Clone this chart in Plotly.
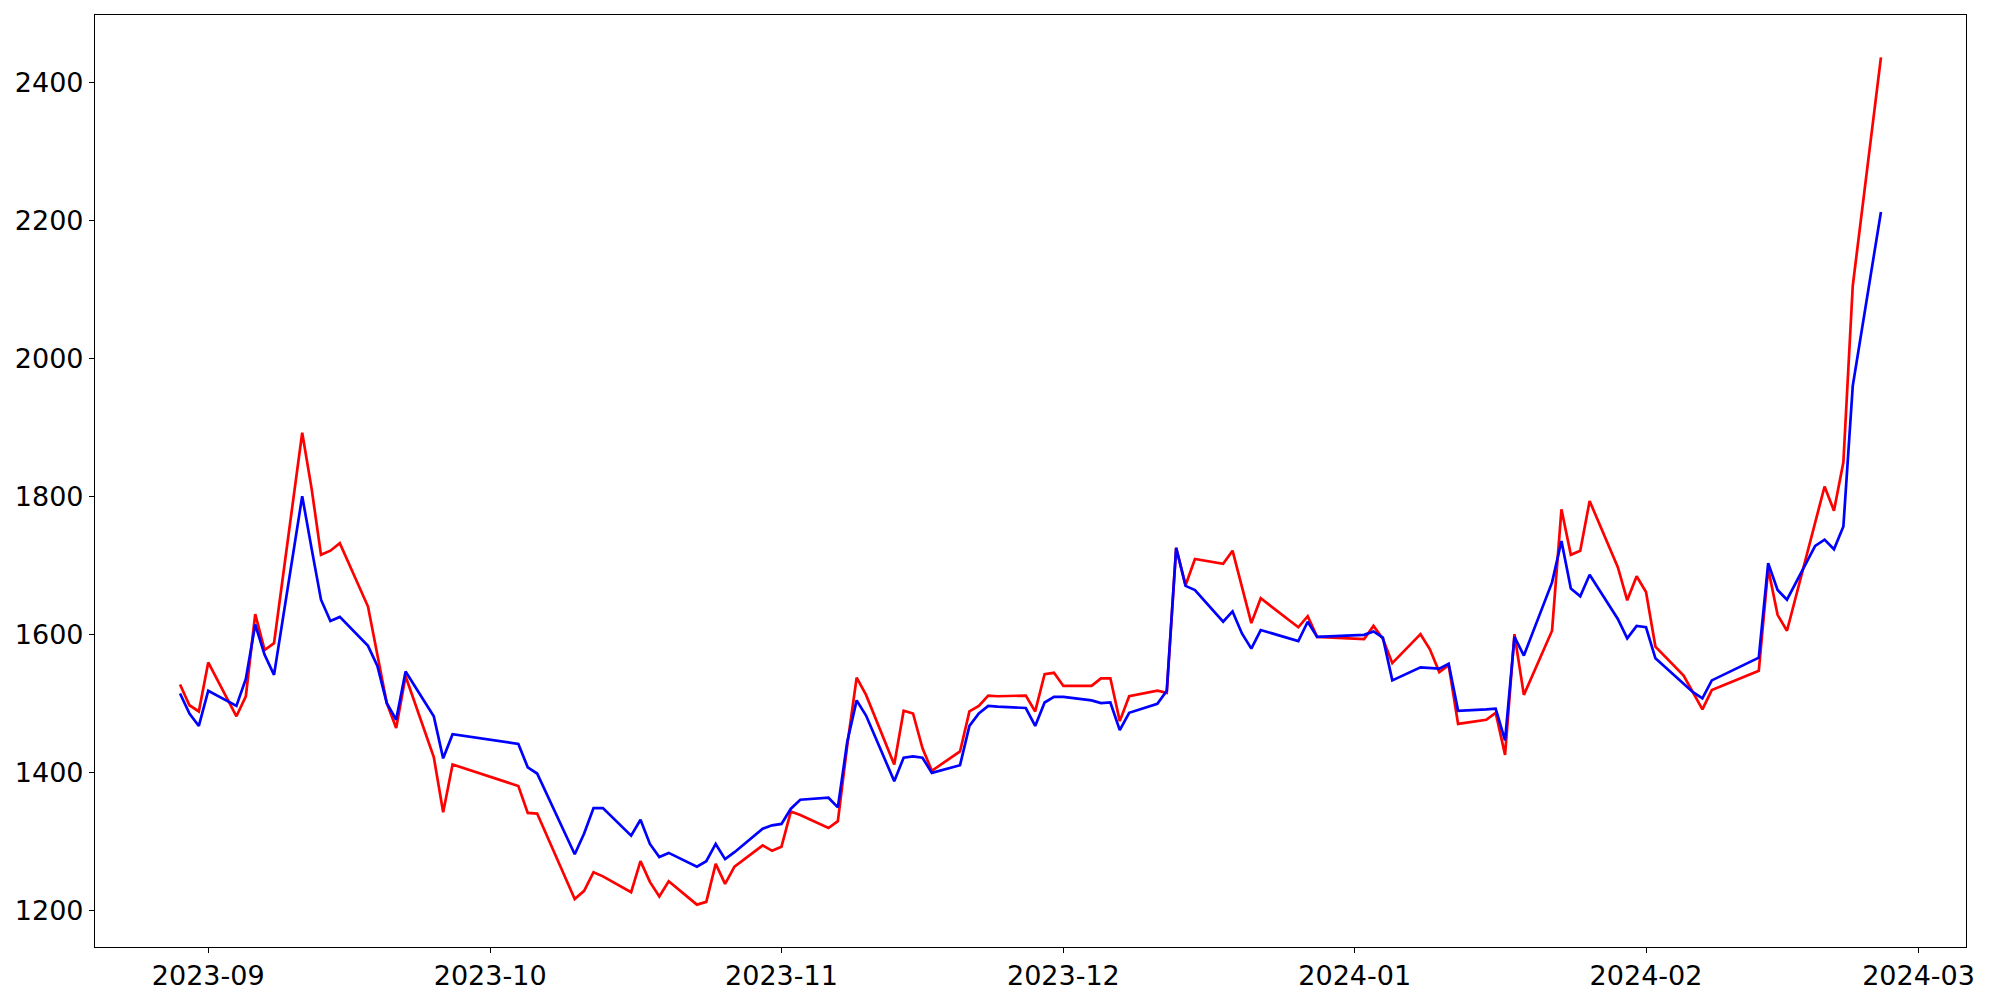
import plotly.graph_objects as go
import pandas as pd

dates = [
    "2023-08-29", "2023-08-30", "2023-08-31", "2023-09-01",
    "2023-09-04", "2023-09-05", "2023-09-06", "2023-09-07", "2023-09-08",
    "2023-09-11", "2023-09-12", "2023-09-13", "2023-09-14", "2023-09-15",
    "2023-09-18", "2023-09-19", "2023-09-20", "2023-09-21", "2023-09-22",
    "2023-09-25", "2023-09-26", "2023-09-27",
    "2023-10-04", "2023-10-05", "2023-10-06",
    "2023-10-10", "2023-10-11", "2023-10-12", "2023-10-13",
    "2023-10-16", "2023-10-17", "2023-10-18", "2023-10-19", "2023-10-20",
    "2023-10-23", "2023-10-24", "2023-10-25", "2023-10-26", "2023-10-27",
    "2023-10-30", "2023-10-31",
    "2023-11-01", "2023-11-02", "2023-11-03",
    "2023-11-06", "2023-11-07", "2023-11-08", "2023-11-09", "2023-11-10",
    "2023-11-13", "2023-11-14", "2023-11-15", "2023-11-16", "2023-11-17",
    "2023-11-20", "2023-11-21", "2023-11-22", "2023-11-23", "2023-11-24",
    "2023-11-27", "2023-11-28", "2023-11-29", "2023-11-30",
    "2023-12-01",
    "2023-12-04", "2023-12-05", "2023-12-06", "2023-12-07", "2023-12-08",
    "2023-12-11", "2023-12-12", "2023-12-13", "2023-12-14", "2023-12-15",
    "2023-12-18", "2023-12-19", "2023-12-20", "2023-12-21", "2023-12-22",
    "2023-12-26", "2023-12-27", "2023-12-28",
    "2024-01-02", "2024-01-03", "2024-01-04", "2024-01-05",
    "2024-01-08", "2024-01-09", "2024-01-10", "2024-01-11", "2024-01-12",
    "2024-01-15", "2024-01-16", "2024-01-17", "2024-01-18", "2024-01-19",
    "2024-01-22", "2024-01-23", "2024-01-24", "2024-01-25", "2024-01-26",
    "2024-01-29", "2024-01-30", "2024-01-31",
    "2024-02-01", "2024-02-02",
    "2024-02-05", "2024-02-06", "2024-02-07", "2024-02-08",
    "2024-02-13", "2024-02-14", "2024-02-15", "2024-02-16",
    "2024-02-19", "2024-02-20", "2024-02-21", "2024-02-22", "2024-02-23",
    "2024-02-26",
]

red_values = [
    # Aug 29 - Sep 27
    1527, 1497, 1488, 1559, 1481, 1510, 1629, 1577, 1587, 1892, 1811,
    1715, 1721, 1732, 1640, 1572, 1500, 1464, 1539, 1422, 1342, 1411,
    # Oct
    1380, 1341, 1340, 1216, 1228, 1255, 1249, 1226, 1271, 1241, 1220,
    1242, 1208, 1212, 1267, 1238, 1263, 1294, 1286,
    # Nov
    1292, 1343, 1338, 1319, 1329, 1439, 1537, 1512, 1411, 1489, 1485,
    1435, 1402, 1430, 1488, 1496, 1511, 1510, 1511, 1488, 1542, 1544,
    # Dec
    1525, 1525, 1536, 1536, 1474, 1510, 1518, 1515, 1725, 1671, 1709,
    1702, 1721, 1668, 1616, 1652, 1610, 1626, 1596,
    # Jan
    1593, 1612, 1593, 1558, 1600, 1578, 1545, 1555, 1470, 1476, 1486,
    1425, 1600, 1512, 1605, 1781, 1715, 1721, 1793, 1697, 1649, 1684,
    # Feb
    1661, 1582, 1540, 1516, 1491, 1519, 1547, 1695, 1628, 1605, 1761,
    1814, 1779, 1849, 2105, 2436,
]

blue_values = [
    # Aug 29 - Sep 27
    1514, 1485, 1467, 1518, 1496, 1535, 1614, 1570, 1541, 1800, 1724,
    1650, 1619, 1625, 1583, 1554, 1500, 1476, 1546, 1481, 1420, 1455,
    # Oct
    1441, 1407, 1398, 1281, 1311, 1348, 1348, 1308, 1331, 1296, 1277,
    1283, 1263, 1271, 1296, 1274, 1284, 1318, 1323,
    # Nov
    1325, 1347, 1360, 1363, 1349, 1444, 1504, 1482, 1387, 1421, 1423,
    1421, 1399, 1410, 1467, 1485, 1496, 1495, 1493, 1467, 1501, 1509,
    # Dec
    1509, 1504, 1500, 1501, 1461, 1486, 1499, 1518, 1725, 1670, 1664,
    1618, 1633, 1601, 1579, 1606, 1590, 1618, 1596,
    # Jan
    1599, 1604, 1595, 1533, 1552, 1551, 1550, 1557, 1489, 1491, 1492,
    1446, 1596, 1569, 1675, 1735, 1666, 1655, 1686, 1622, 1594, 1612,
    # Feb
    1610, 1565, 1528, 1516, 1507, 1533, 1566, 1703, 1664, 1650, 1728,
    1737, 1723, 1756, 1960, 2212,
]

y_ticks = [1200, 1400, 1600, 1800, 2000, 2200, 2400]

assert len(dates) == len(red_values) == len(blue_values)

x = pd.to_datetime(dates)
span = x.max() - x.min()
x_range = [x.min() - 0.05 * span, x.max() + 0.05 * span]
all_vals = red_values + blue_values
vspan = max(all_vals) - min(all_vals)
y_range = [min(all_vals) - 0.05 * vspan, max(all_vals) + 0.05 * vspan]

fig = go.Figure()
fig.add_trace(go.Scatter(x=x, y=red_values, mode="lines",
                         line=dict(color="#ff0000", width=2.7), showlegend=False))
fig.add_trace(go.Scatter(x=x, y=blue_values, mode="lines",
                         line=dict(color="#0000ff", width=2.7), showlegend=False))

axis_font = dict(family="DejaVu Sans", size=27, color="black")
fig.update_layout(
    width=2000, height=1000,
    margin=dict(l=95, r=34, t=15, b=53, pad=0),
    paper_bgcolor="white", plot_bgcolor="white",
    showlegend=False,
    xaxis=dict(
        range=x_range, type="date", automargin=False,
        tick0="2023-09-01", dtick="M1", tickformat="%Y-%m",
        ticks="outside", ticklen=5, tickwidth=1.1, tickcolor="black",
        showline=True, linecolor="black", linewidth=1.1, mirror=True,
        showgrid=False, zeroline=False, tickfont=axis_font,
    ),
    yaxis=dict(
        range=y_range, automargin=False,
        tickvals=y_ticks, ticktext=[str(v) for v in y_ticks],
        ticks="outside", ticklen=5, tickwidth=1.1, tickcolor="black",
        showline=True, linecolor="black", linewidth=1.1, mirror=True,
        showgrid=False, zeroline=False, tickfont=axis_font,
    ),
)

fig.write_html(
    "out.html",
    config={"displayModeBar": False},
    post_script="document.body.style.margin='0';document.body.style.overflow='hidden';",
)
